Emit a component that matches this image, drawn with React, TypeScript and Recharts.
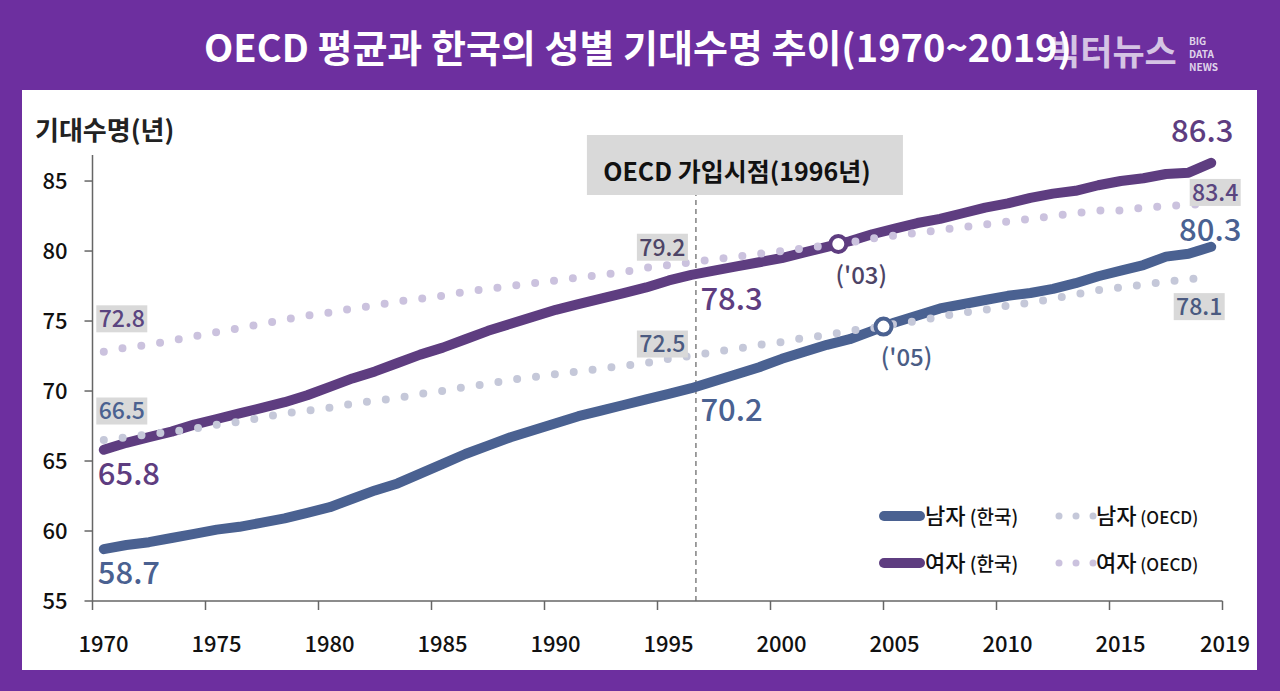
import React from 'react';
import { LineChart, Line, XAxis, YAxis, ReferenceLine, ReferenceDot } from 'recharts';

// 연도 (1970~2019)
const years = [
  1970, 1971, 1972, 1973, 1974, 1975, 1976, 1977, 1978, 1979,
  1980, 1981, 1982, 1983, 1984, 1985, 1986, 1987, 1988, 1989,
  1990, 1991, 1992, 1993, 1994, 1995, 1996, 1997, 1998, 1999,
  2000, 2001, 2002, 2003, 2004, 2005, 2006, 2007, 2008, 2009,
  2010, 2011, 2012, 2013, 2014, 2015, 2016, 2017, 2018, 2019,
];

// 남자 (한국)
const koreaMale = [
  58.7, 59.0, 59.2, 59.5, 59.8, 60.1, 60.3, 60.6, 60.9, 61.3,
  61.7, 62.3, 62.9, 63.4, 64.1, 64.8, 65.5, 66.1, 66.7, 67.2,
  67.7, 68.2, 68.6, 69.0, 69.4, 69.8, 70.2, 70.7, 71.2, 71.7,
  72.3, 72.8, 73.3, 73.7, 74.3, 74.9, 75.4, 75.9, 76.2, 76.5,
  76.8, 77.0, 77.3, 77.7, 78.2, 78.6, 79.0, 79.6, 79.8, 80.3,
];

// 여자 (한국)
const koreaFemale = [
  65.8, 66.3, 66.7, 67.1, 67.6, 68.0, 68.4, 68.8, 69.2, 69.7,
  70.3, 70.9, 71.4, 72.0, 72.6, 73.1, 73.7, 74.3, 74.8, 75.3,
  75.8, 76.2, 76.6, 77.0, 77.4, 77.9, 78.3, 78.6, 78.9, 79.2,
  79.5, 79.9, 80.3, 80.7, 81.2, 81.6, 82.0, 82.3, 82.7, 83.1,
  83.4, 83.8, 84.1, 84.3, 84.7, 85.0, 85.2, 85.5, 85.6, 86.3,
];

// 남자 (OECD)
const oecdMale = [
  66.5, 66.7, 66.9, 67.1, 67.3, 67.6, 67.8, 68.1, 68.4, 68.6,
  68.8, 69.1, 69.3, 69.5, 69.8, 70.0, 70.3, 70.5, 70.8, 71.0,
  71.2, 71.4, 71.6, 71.8, 72.0, 72.3, 72.5, 72.8, 73.0, 73.3,
  73.5, 73.8, 74.0, 74.3, 74.5, 74.8, 75.0, 75.3, 75.6, 75.8,
  76.1, 76.3, 76.6, 76.9, 77.2, 77.4, 77.6, 77.8, 78.0, 78.1,
];

// 여자 (OECD)
const oecdFemale = [
  72.8, 73.1, 73.3, 73.6, 73.9, 74.2, 74.5, 74.8, 75.1, 75.4,
  75.6, 75.9, 76.1, 76.4, 76.6, 76.8, 77.1, 77.3, 77.5, 77.7,
  77.9, 78.1, 78.3, 78.5, 78.8, 79.0, 79.2, 79.4, 79.6, 79.8,
  80.0, 80.2, 80.4, 80.6, 80.9, 81.1, 81.3, 81.5, 81.7, 81.9,
  82.1, 82.3, 82.5, 82.7, 82.9, 82.9, 83.1, 83.2, 83.3, 83.4,
];

const xTicks = [1970, 1975, 1980, 1985, 1990, 1995, 2000, 2005, 2010, 2015, 2020];
const xTickLabels = ['1970', '1975', '1980', '1985', '1990', '1995', '2000', '2005', '2010', '2015', '2019'];
const yTicks = [55, 60, 65, 70, 75, 80, 85];

const BG = '#6d2f9f';
const KM = '#4a6191';
const KF = '#5e3d80';
const OM = '#c5c8d9';
const OF = '#cbc2de';
const FONT = '"Noto Sans CJK KR", "Noto Sans", sans-serif';

// 엑셀식 항목 축: 각 연도는 눈금 사이 가운데에 찍힌다
const data = years.map((year, i) => ({
  year,
  pos: year + 0.5,
  km: koreaMale[i],
  kf: koreaFemale[i],
  om: oecdMale[i],
  of: oecdFemale[i],
}));

type Note = { text: string; year: number; value: number; dx: number; dy: number; kind: 'box' | 'big'; color: string; anchor?: string };

const notes: Note[] = [
  { text: '72.8', year: 1970, value: 72.8, dx: 18, dy: -33, kind: 'box', color: '#5a4580' },
  { text: '66.5', year: 1970, value: 66.5, dx: 18, dy: -29, kind: 'box', color: '#4b6190' },
  { text: '65.8', year: 1970, value: 65.8, dx: -6, dy: 24, kind: 'big', color: KF, anchor: 'start' },
  { text: '58.7', year: 1970, value: 58.7, dx: -6, dy: 24, kind: 'big', color: KM, anchor: 'start' },
  { text: '79.2', year: 1996, value: 79.2, dx: -29, dy: -15, kind: 'box', color: '#4d4466' },
  { text: '72.5', year: 1996, value: 72.5, dx: -29, dy: -12, kind: 'box', color: '#4b5a80' },
  { text: '78.3', year: 1996, value: 78.3, dx: 9, dy: 24, kind: 'big', color: KF, anchor: 'start' },
  { text: '70.2', year: 1996, value: 70.2, dx: 9, dy: 22, kind: 'big', color: KM, anchor: 'start' },
  { text: '86.3', year: 2019, value: 86.3, dx: -9, dy: -32, kind: 'big', color: KF },
  { text: '83.4', year: 2019, value: 83.4, dx: 4, dy: -11, kind: 'box', color: '#5a4580' },
  { text: '80.3', year: 2019, value: 80.3, dx: -1, dy: -17, kind: 'big', color: KM },
  { text: '78.1', year: 2019, value: 78.1, dx: -12, dy: 29, kind: 'box', color: '#4b5a80' },
];

// 한국이 OECD를 앞지른 시점
const crossings = [
  { label: "('03)", year: 2003, value: 80.5, color: KF, text: '#4d4466' },
  { label: "('05)", year: 2005, value: 74.6, color: KM, text: '#4b5d85' },
];

const noteShape = (n: Note) => (props: any) => {
  const tx = props.cx + n.dx;
  const ty = props.cy + n.dy;
  if (n.kind === 'box') {
    return (
      <g>
        <rect x={tx - 25.5} y={ty - 13.5} width={51} height={27} fill="#d9d9d9" />
        <text x={tx} y={ty} dy="0.36em" textAnchor="middle" fontSize={23} fontWeight={500} fill={n.color} fontFamily={FONT}>
          {n.text}
        </text>
      </g>
    );
  }
  return (
    <text x={tx} y={ty} dy="0.36em" textAnchor={n.anchor || 'middle'} fontSize={31} fontWeight={500} fill={n.color} fontFamily={FONT}>
      {n.text}
    </text>
  );
};

const crossShape = (c: any) => (props: any) => (
  <g>
    <circle cx={props.cx} cy={props.cy} r={8} fill="#fff" stroke={c.color} strokeWidth={4} />
    <text x={props.cx + 23} y={props.cy + 31} dy="0.36em" textAnchor="middle" fontSize={24} fontWeight={500} fill={c.text} fontFamily={FONT}>
      {c.label}
    </text>
  </g>
);

const joinShape = (props: any) => (
  <g>
    <rect x={props.cx - 109} y={props.cy - 20} width={316} height={60} fill="#d9d9d9" />
    <text x={props.cx + 41} y={props.cy + 17} dy="0.36em" textAnchor="middle" fontSize={25} fontWeight={700} fill="#111" fontFamily={FONT}>
      OECD 가입시점(1996년)
    </text>
  </g>
);

const XTick = (props: any) => {
  const { x, y, payload } = props;
  const idx = xTicks.indexOf(payload.value);
  const shift = payload.value === 2020 ? 2.5 : 11;
  return (
    <text x={x + shift} y={y + 40} textAnchor="middle" fontSize={22} fontWeight={500} fill="#111" fontFamily={FONT}>
      {xTickLabels[idx]}
    </text>
  );
};

const LegendBox = () => (
  <svg width={400} height={100} style={{ position: 'absolute', left: 860, top: 490 }}>
    {[
      { y: 26, name: '남자', c: KM, o: OM },
      { y: 73, name: '여자', c: KF, o: OF },
    ].map((r) => (
      <g key={r.name} fontFamily={FONT} fill="#111" fontWeight={500}>
        <line x1={24} x2={60} y1={r.y} y2={r.y} stroke={r.c} strokeWidth={10} strokeLinecap="round" />
        <text x={65} y={r.y} dy="0.36em" fontSize={22}>
          {r.name}
          <tspan fontSize={19}> (한국)</tspan>
        </text>
        <circle cx={199} cy={r.y} r={3.5} fill={r.o} />
        <circle cx={216} cy={r.y} r={3.5} fill={r.o} />
        <circle cx={233} cy={r.y} r={3.5} fill={r.o} />
        <text x={236} y={r.y} dy="0.36em" fontSize={22}>
          {r.name}
          <tspan fontSize={17}> (OECD)</tspan>
        </text>
      </g>
    ))}
  </svg>
);

export default function App() {
  return (
    <div style={{ position: 'absolute', left: 0, top: 0, width: 1280, height: 691, background: BG, fontFamily: FONT, overflow: 'hidden' }}>
      <div
        style={{
          position: 'absolute', left: 0, top: 21, width: 1276, height: 50, lineHeight: '50px',
          textAlign: 'center', color: '#fff', fontSize: 38, fontWeight: 700,
        }}
      >
        OECD 평균과 한국의 성별 기대수명 추이(1970~2019)
      </div>
      <div style={{ position: 'absolute', left: 1048, top: 26, fontSize: 35, fontWeight: 700, color: 'rgba(255,255,255,0.72)', lineHeight: '48px' }}>
        빅터뉴스
      </div>
      <div style={{ position: 'absolute', left: 1189, top: 34, fontSize: 10, fontWeight: 700, color: 'rgba(255,255,255,0.8)', lineHeight: '13px' }}>
        BIG<br />DATA<br />NEWS
      </div>

      <div style={{ position: 'absolute', left: 22, top: 90, width: 1235, height: 580, background: '#fff' }} />
      <div style={{ position: 'absolute', left: 35, top: 111, fontSize: 26, fontWeight: 700, color: '#222', lineHeight: '36px' }}>
        기대수명(년)
      </div>

      <div style={{ position: 'absolute', left: 0, top: 0 }}>
        <LineChart width={1280} height={691} data={data} margin={{ top: 155, right: 57.5, bottom: 60, left: 0 }}>
          <XAxis
            dataKey="pos"
            type="number"
            domain={[1970, 2020]}
            ticks={xTicks}
            tickSize={9}
            height={30}
            axisLine={{ stroke: '#666', strokeWidth: 1.5 }}
            tickLine={{ stroke: '#666', strokeWidth: 1.5 }}
            tick={<XTick />}
          />
          <YAxis
            type="number"
            domain={[55, 86.86]}
            ticks={yTicks}
            width={92.5}
            tickSize={8}
            tickMargin={17}
            axisLine={{ stroke: '#666', strokeWidth: 1.5 }}
            tickLine={{ stroke: '#666', strokeWidth: 1.5 }}
            tick={{ fill: '#111', fontSize: 22, fontWeight: 500, fontFamily: FONT }}
          />
          <ReferenceLine x={1996.7} stroke="#808080" strokeWidth={1.5} strokeDasharray="5 4" />
          <Line dataKey="km" type="linear" stroke={KM} strokeWidth={10} strokeLinecap="round" strokeLinejoin="round" dot={false} isAnimationActive={false} />
          <Line dataKey="kf" type="linear" stroke={KF} strokeWidth={10} strokeLinecap="round" strokeLinejoin="round" dot={false} isAnimationActive={false} />
          <Line dataKey="om" type="linear" stroke={OM} strokeWidth={8} strokeLinecap="round" strokeDasharray="0 19" dot={false} isAnimationActive={false} />
          <Line dataKey="of" type="linear" stroke={OF} strokeWidth={8} strokeLinecap="round" strokeDasharray="0 19" dot={false} isAnimationActive={false} />
          <ReferenceDot x={1996.7} y={86.86} r={1} isFront shape={joinShape} />
          {crossings.map((c) => (
            <ReferenceDot key={c.label} x={c.year} y={c.value} r={8} isFront shape={crossShape(c)} />
          ))}
          {notes.map((n) => (
            <ReferenceDot key={n.text} x={n.year + 0.5} y={n.value} r={1} isFront shape={noteShape(n)} />
          ))}
        </LineChart>
      </div>
      <LegendBox />
    </div>
  );
}
